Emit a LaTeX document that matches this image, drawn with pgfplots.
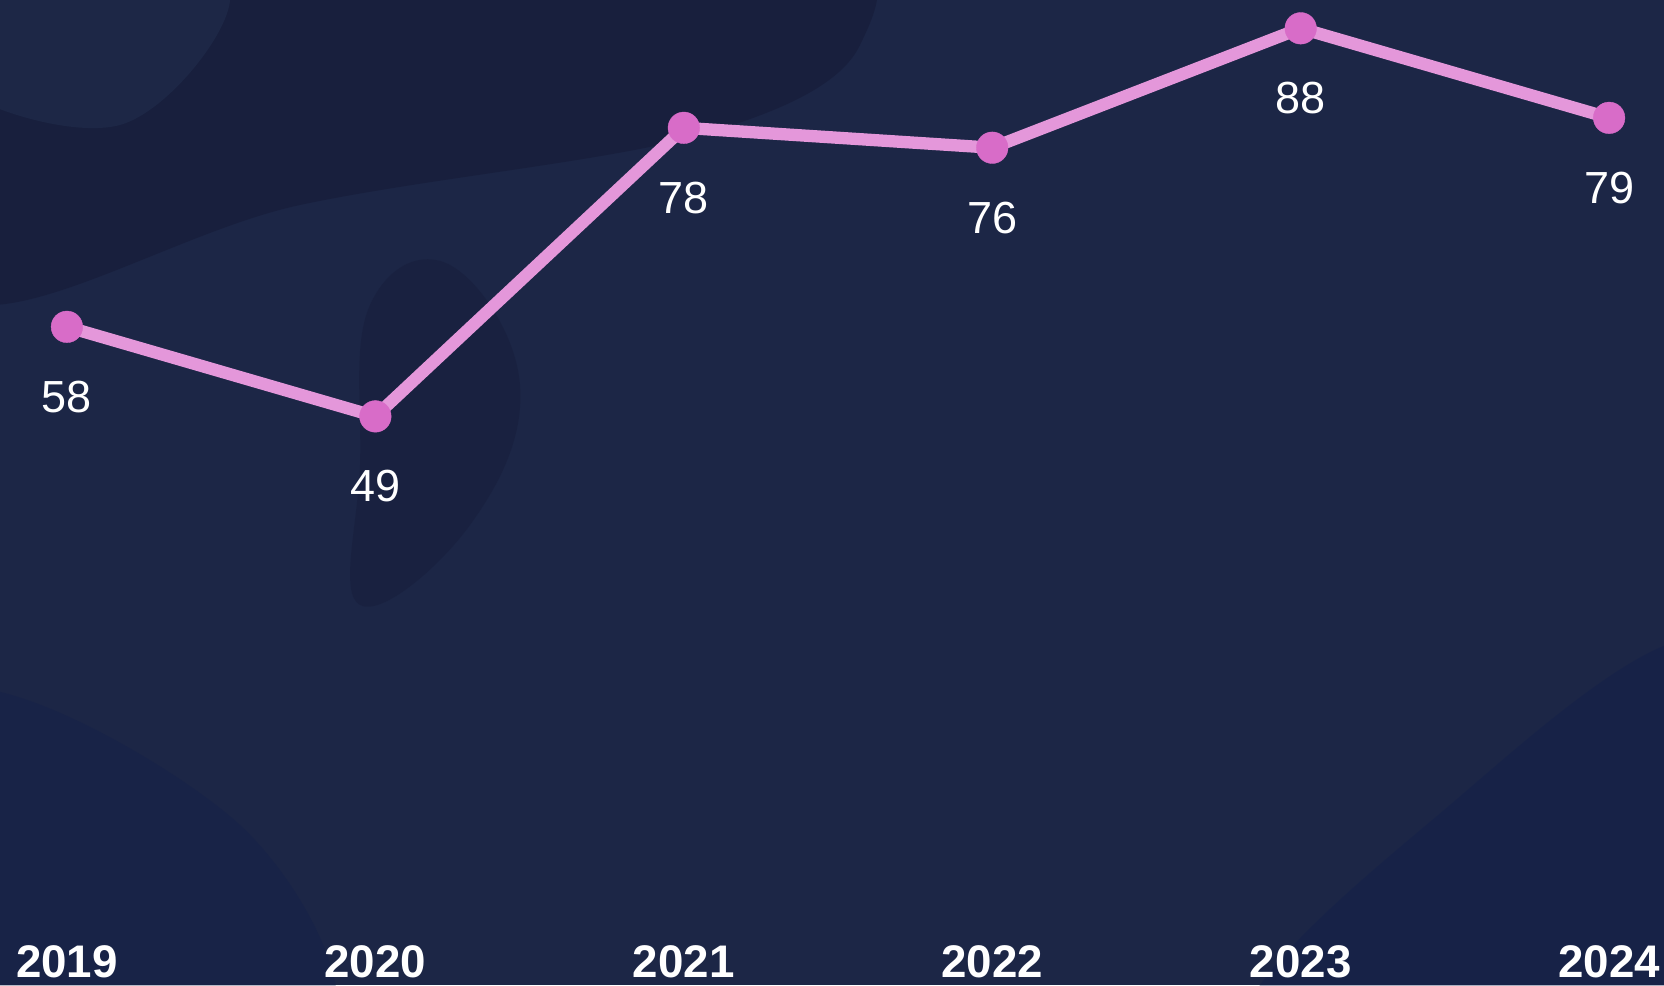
\documentclass[border=0pt]{standalone}
\usepackage{fontspec}
\setmainfont{Liberation Sans}
\usepackage{pgfplots}
\pgfplotsset{compat=1.18}

\definecolor{bgnavy}{HTML}{1C2646}
\definecolor{bgdark}{HTML}{141733}
\definecolor{bgblue}{HTML}{0F1D4A}
\definecolor{bglight}{HTML}{22304F}
\definecolor{linepink}{HTML}{E497DA}
\definecolor{markpink}{HTML}{D86CC8}

\begin{document}
\begin{tikzpicture}
  % background
  \fill[bgnavy] (0,0) rectangle (16.64,9.85);
  \fill[bgdark, opacity=0.45] plot[smooth cycle, tension=0.6] coordinates
    {(-0.5,6.9) (3.0,7.8) (7.0,8.5) (8.6,9.4) (8.0,10.6) (2.0,10.8) (-0.6,10.4)};
  \fill[bgdark, opacity=0.3] plot[smooth cycle, tension=0.7] coordinates
    {(3.6,3.8) (4.7,4.6) (5.2,6.0) (4.5,7.2) (3.7,6.8) (3.6,5.2)};
  \fill[bglight, opacity=0.5] plot[smooth cycle, tension=0.6] coordinates
    {(-0.6,9.1) (1.2,8.6) (2.3,9.9) (1.0,10.6) (-0.6,10.5)};
  \fill[bgblue, opacity=0.35] plot[smooth cycle, tension=0.6] coordinates
    {(12.5,-0.6) (14.5,1.8) (17.2,3.4) (17.3,-0.6)};
  \fill[bgblue, opacity=0.3] plot[smooth cycle, tension=0.6] coordinates
    {(-0.6,-0.6) (3.2,-0.6) (2.4,1.6) (-0.6,2.9)};
  \begin{axis}[
    at={(0,0)}, anchor=south west,
    width=16.64cm, height=9.85cm, scale only axis,
    xmin=2018.783, xmax=2024.178,
    ymin=-8.14, ymax=90.85,
    axis line style={draw=none},
    clip=false,
    xtick=data,
    xticklabels={2019,2020,2021,2022,2023,2024},
    ytick=\empty,
    major tick length=0pt,
    xticklabel style={anchor=base, yshift=2pt, font=\fontsize{13}{15}\selectfont\bfseries, text=white},
    /pgf/number format/assume math mode=true,
    nodes near coords,
    every node near coord/.append style={anchor=center, yshift=-19.9pt,
      font=\fontsize{12.8}{15}\selectfont, text=white},
  ]
    \addplot[linepink, line width=3.5pt, mark=*, mark size=4.5pt,
      mark options={fill=markpink, draw=markpink, line width=0.1pt}]
      coordinates {(2019,58) (2020,49) (2021,78) (2022,76) (2023,88) (2024,79)};
  \end{axis}
  \pgfresetboundingbox
  \useasboundingbox (0,0) rectangle (16.64,9.85);
\end{tikzpicture}
\end{document}
